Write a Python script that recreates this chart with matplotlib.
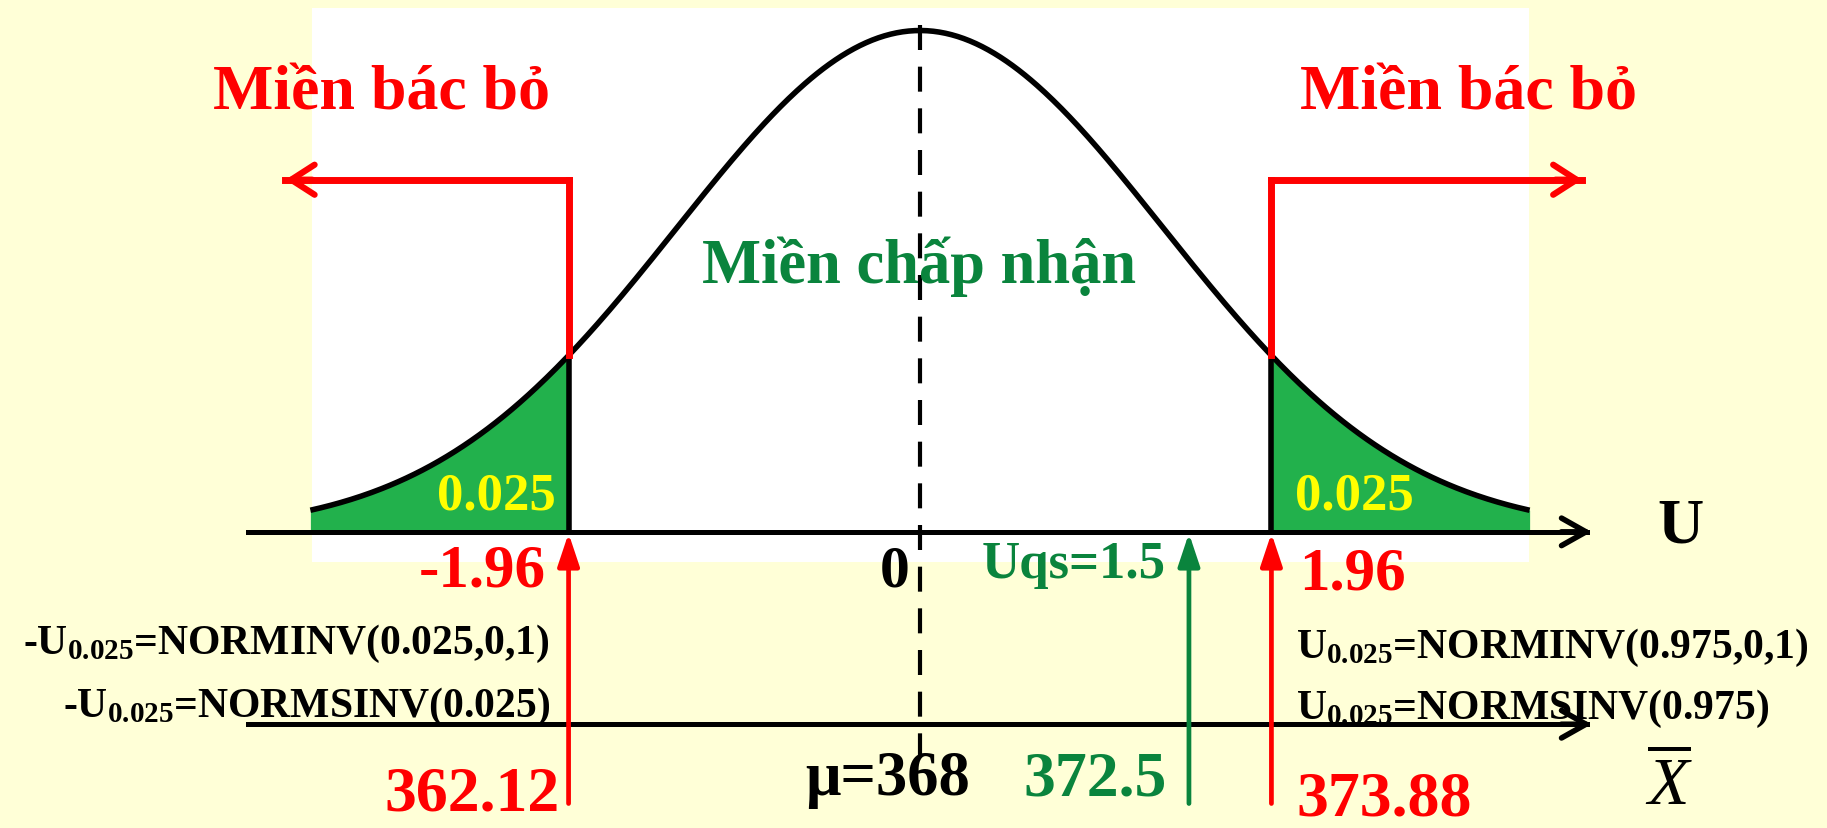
import numpy as np
import matplotlib
matplotlib.use('Agg')
import matplotlib.pyplot as plt
from matplotlib.patches import Rectangle, FancyArrowPatch

# ---------------- data ----------------
u_crit = [-1.96, 1.96]
u_crit_labels = ['-1.96', '1.96']
x_crit_labels = ['362.12', '373.88']
u_obs = 1.5
u_obs_label = 'Uqs=1.5'
x_obs_label = '372.5'
mu_label = 'μ=368'
zero_label = '0'
tail_labels = ['0.025', '0.025']
region_reject = 'Miền bác bỏ'
region_accept = 'Miền chấp nhận'
formulas_left = [r'-U$_{0.025}$=NORMINV(0.025,0,1)', r'-U$_{0.025}$=NORMSINV(0.025)']
formulas_right = [r'U$_{0.025}$=NORMINV(0.975,0,1)', r'U$_{0.025}$=NORMSINV(0.975)']
axis_u_label = 'U'
axis_x_label = r'$\overline{\mathit{X}}$'
curve_range = [-3.4, 3.4]
curve_spread = 1.356

# ---------------- style ----------------
BG = '#FFFFD7'
RED = '#FF0000'
GREEN_FILL = '#22B14C'
GREEN_TXT = '#0A843D'
YELLOW = '#FFFF00'
FAM = ['Liberation Serif', 'DejaVu Serif']

plt.rcParams['font.family'] = FAM
plt.rcParams['mathtext.fontset'] = 'custom'
plt.rcParams['mathtext.rm'] = 'Liberation Serif:bold'
plt.rcParams['mathtext.bf'] = 'Liberation Serif:bold'
plt.rcParams['mathtext.it'] = 'Liberation Serif:italic'
plt.rcParams['mathtext.default'] = 'rm'

fig = plt.figure(figsize=(18.27, 8.29), dpi=100, facecolor=BG)
ax = fig.add_axes([0, 0, 1, 1])
ax.set_facecolor(BG)
ax.axis('off')

S = 1827 / 1568.0
CX, UNIT = 920.0, 179.3
AX_Y, HUNIT = 532.5, 501.0


def X(xd):
    return (xd * S - CX) / UNIT


def Y(yd):
    return (AX_Y - yd * S) / HUNIT


ax.set_xlim(X(0), X(1568))
ax.set_ylim(Y(711), Y(0))

# white panel
ax.add_patch(Rectangle((X(268), Y(483)), X(1312) - X(268), Y(8) - Y(483),
                       facecolor='white', edgecolor='none', zorder=0))

# curve
u = np.linspace(curve_range[0], curve_range[1], 600)
h = np.exp(-u ** 2 / (2 * curve_spread ** 2))

left = u <= u_crit[0]
right = u >= u_crit[1]
hc = np.exp(-np.array(u_crit) ** 2 / (2 * curve_spread ** 2))
ul = np.concatenate([u[left], [u_crit[0]]])
hl = np.concatenate([h[left], [hc[0]]])
ur = np.concatenate([[u_crit[1]], u[right]])
hr = np.concatenate([[hc[1]], h[right]])
ax.fill_between(ul, 0, hl, color=GREEN_FILL, zorder=1, linewidth=0)
ax.fill_between(ur, 0, hr, color=GREEN_FILL, zorder=1, linewidth=0)
ax.plot(u, h, color='black', lw=4.0, zorder=3, solid_capstyle='butt')

for uc, hh in zip(u_crit, hc):
    ax.plot([uc, uc], [0, hh], color='black', lw=4.0, zorder=3)

# axes with chevron heads
for yy in [0, Y(622)]:
    ax.plot([X(213), X(1362)], [yy, yy], color='black', lw=3.6, zorder=4)
    ax.add_patch(FancyArrowPatch((X(1340), yy), (X(1366), yy),
                                 arrowstyle='->,head_length=0.8,head_width=0.45',
                                 mutation_scale=22, color='black', lw=4.0,
                                 zorder=4, shrinkA=0, shrinkB=0,
                                 capstyle='round', joinstyle='round'))

# dashed centre line
ax.plot([0, 0], [Y(22), Y(650)], color='black', lw=3.0, zorder=2,
        dashes=(6.0, 4.0))

# rejection brackets
top = Y(155)
for uc, hh, tip in zip(u_crit, hc, [X(245), X(1358)]):
    ax.plot([uc, uc], [hh, top], color=RED, lw=5.0, zorder=5,
            solid_joinstyle='miter')
    ax.plot([uc, tip], [top, top], color=RED, lw=5.0, zorder=5)
    back = tip + (0.15 if tip < 0 else -0.15)
    ax.add_patch(FancyArrowPatch((back, top), (tip, top),
                                 arrowstyle='->,head_length=0.7,head_width=0.45',
                                 mutation_scale=24, color=RED, lw=4.5,
                                 zorder=5, shrinkA=0, shrinkB=0,
                                 capstyle='round', joinstyle='round'))

# up arrows
bottom = Y(690)
for uc in u_crit:
    ax.add_patch(FancyArrowPatch((uc, bottom), (uc, 0),
                                 arrowstyle='-|>,head_length=0.9,head_width=0.3',
                                 mutation_scale=22, color=RED, lw=3.4,
                                 zorder=6, shrinkA=0, shrinkB=1))
ax.add_patch(FancyArrowPatch((u_obs, bottom), (u_obs, 0),
                             arrowstyle='-|>,head_length=0.9,head_width=0.3',
                             mutation_scale=22, color=GREEN_TXT, lw=3.4,
                             zorder=6, shrinkA=0, shrinkB=1))

# ---------------- text ----------------
def T(xd, yd, s, size, color='black', ha='center', **kw):
    ax.text(X(xd), Y(yd), s, fontsize=size, color=color, ha=ha, va='baseline',
            fontweight='bold', family=FAM, zorder=8, **kw)


T(327, 94, region_reject, 46, RED)
T(1260, 94, region_reject, 46, RED)
T(789, 243, region_accept, 45, GREEN_TXT)
T(426, 437, tail_labels[0], 38, YELLOW)
T(1162, 437, tail_labels[1], 38, YELLOW)
T(468, 503, u_crit_labels[0], 44, RED, ha='right')
T(1115, 506, u_crit_labels[1], 44, RED, ha='left')
T(768, 503, zero_label, 43)
T(1000, 496, u_obs_label, 38, GREEN_TXT, ha='right')
T(1442, 465, axis_u_label, 46)
T(472, 561, formulas_left[0], 30, ha='right')
T(472, 615, formulas_left[1], 30, ha='right')
T(1112, 564, formulas_right[0], 30, ha='left')
T(1112, 617, formulas_right[1], 30, ha='left')
T(480, 695, x_crit_labels[0], 46, RED, ha='right')
T(1113, 699, x_crit_labels[1], 46, RED, ha='left')
T(762, 682, mu_label, 45)
T(940, 682, x_obs_label, 46, GREEN_TXT)
ax.text(X(1432), Y(690), axis_x_label, fontsize=49, color='black', ha='center',
        va='baseline', zorder=8)

fig.savefig('out.png', dpi=100, facecolor=BG)
